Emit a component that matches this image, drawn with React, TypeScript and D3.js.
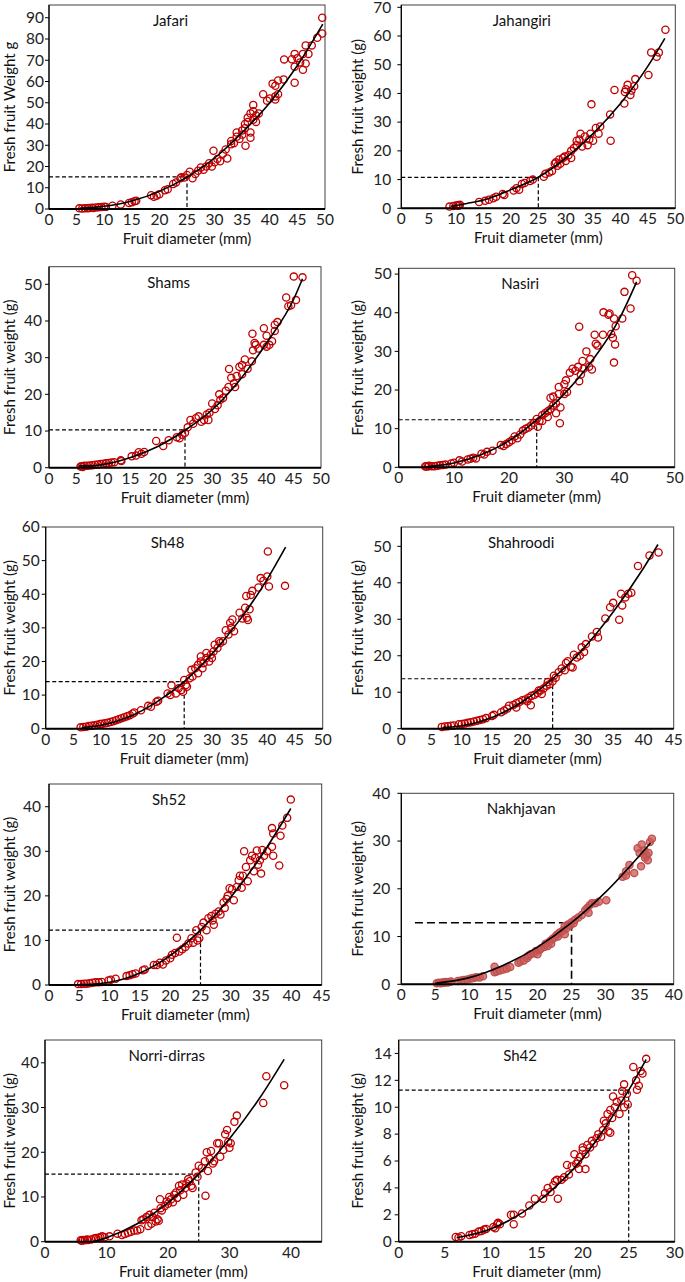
import React from "react";
import * as d3 from "d3";

type Pt = [number, number];

// ---------- DATA ----------
const cultivars = ["Jafari", "Jahangiri", "Shams", "Nasiri", "Sh48", "Shahroodi", "Sh52", "Nakhjavan", "Norri-dirras", "Sh42"];
const yTitles = ["Fresh fruit Weight  g", "Fresh fruit weight (g)", "Fresh fruit weight (g)", "Fresh fruit weight (g)", "Fresh fruit weight (g)", "Fresh fruit weight (g)", "Fresh fruit weight (g)", "Fresh fruit weight (g)", "Fresh fruit weight (g)", "Fresh fruit weight (g)"];
const xTitle = "Fruit diameter (mm)";

const xMax = [50, 50, 50, 50, 50, 45, 45, 40, 45, 30];
const xStep = [5, 5, 5, 10, 5, 5, 5, 5, 10, 5];
const xTickMax = [50, 50, 50, 50, 50, 45, 45, 40, 40, 30];
const yMax = [96, 70.8, 54.8, 51.5, 60, 55.3, 45.1, 40, 45.1, 15];
const yStep = [10, 10, 10, 10, 10, 10, 10, 10, 10, 2];
const yTickMax = [90, 70, 50, 50, 60, 50, 40, 40, 40, 14];
const refDiameter = 25;
const refWeight = [15.1, 10.8, 10.3, 12.3, 14.0, 13.7, 12.3, 12.9, 15.1, 11.27];
const refStart = [0, 0, 0, 0, 0, 0, 0, 2, 0, 0];

const jafariPts: Pt[] = [[5.5,0.3],[6,0.2],[6.5,0.3],[7,0.4],[7.3,0.5],[7.8,0.6],[8,0.5],[8.5,0.7],[9,0.8],[9.5,0.9],[10,1.1],[10.3,1.0],[11.5,1.5],[13,2.1],[14.5,2.8],[15,3.2],[15.5,3.6],[15.8,3.9],[18.5,6.5],[19,5.8],[19.5,6.2],[20,7],[21,8.8],[21.5,9.3],[22.5,11.8],[23,12.5],[23.8,14.5],[24,15],[24.5,14.8],[25,16],[25.5,17.5],[26,14.5],[26.5,16.5],[27,18],[27.5,19.5],[28,18.5],[28.5,20],[29,21.5],[29.5,20],[30,22],[29.8,27.4],[30.5,23.5],[31,22.5],[31.5,26],[32,28],[32.3,23.8],[33,30.5],[33,32],[33.5,31],[34,36],[34,34],[34.5,33],[35,35],[35,37],[35.5,38],[35.5,40],[36,41],[36,43],[35.6,29.8],[36.5,45],[36.5,36],[36.5,33.5],[37,46],[37,49],[37,42],[37.5,44],[37.5,41],[38,45],[38.8,54],[39.5,51],[40,52],[40.5,59],[41,58],[41,53],[41,51.5],[41.5,60.5],[41.5,54],[42.5,61],[42.6,70.4],[44,70.5],[44.5,73],[44.5,67],[44.5,59.4],[45,71],[45.5,69],[46,73],[46,65.5],[46.5,77],[46.5,68.5],[47,73],[47.6,77],[48.6,80.6],[49.5,90],[49.5,82.6]];
const jahangiriPts: Pt[] = [[8.8,0.6],[9.5,0.8],[10,1],[10.3,1.1],[10.5,0.9],[10.7,1.2],[14.2,2.2],[15.3,2.6],[16,3],[16.8,3.5],[17.3,4],[18.5,5],[18.8,4.6],[20.5,6.2],[21,7],[21.5,6.5],[22,8.5],[22.5,8.8],[23.5,9.5],[24,10],[26,11],[26.3,12],[27,12.5],[27.5,13],[28,15.5],[28.2,16],[28.5,14.8],[28.8,17],[29,15.5],[29.5,17.5],[29.8,18],[30,16.5],[30.5,18.5],[31,17.5],[31,20],[31.5,21],[32,22],[32,23.5],[32.5,24],[32.7,26],[33,21.5],[33.5,25],[34,22],[34.3,24],[34.5,26],[34.7,36.2],[35,23.5],[35.5,28],[36,26],[36.3,28.5],[38.1,32.7],[38.2,23.5],[38.9,41.2],[40.7,36.5],[40.8,40.5],[41,41.5],[41.3,43],[41.8,39.5],[42,41],[42.5,42.5],[42.7,45],[45.1,46.4],[45.6,54.3],[46.6,52.8],[47,54.3],[48.2,62.2]];
const shamsPts: Pt[] = [[5.8,0.3],[6,0.4],[6.2,0.2],[6.5,0.5],[7,0.5],[7.5,0.6],[8,0.7],[8.5,0.8],[9,0.9],[9.5,1],[10,1.1],[10.5,1.2],[11,1.3],[11.5,1.4],[12,1.5],[13.2,2.0],[13.3,1.8],[15.2,3.1],[16,3.3],[16.5,4.2],[17,3.8],[17.5,4.3],[19.7,7.3],[21,5.9],[22,7.5],[23.5,8.3],[24,8],[24.5,9],[25,9.5],[25.5,11],[26,13],[26.5,12],[27,13.5],[27.5,14],[28,12.5],[28.5,13],[29,14.5],[29.3,13],[29.5,15],[30,17.5],[30.5,16],[31,17],[31.3,20],[31.5,18.5],[32,19],[32.5,21],[33,22],[33.1,26.9],[33.5,24.5],[34,23],[34.2,22],[34.5,25],[35,27.5],[35.5,28],[35.5,25.5],[36,29.5],[36.5,27],[37.3,29],[37.5,32],[37.4,36.5],[37.8,34],[38,33.5],[38.5,32.5],[39.5,38],[39.5,33.5],[40,36],[40,33],[40.5,33.5],[41,34.5],[41.5,39],[41.5,37.3],[42,39.7],[43.6,46.4],[44,44],[44.5,44.3],[45,52.1],[45.4,45.7],[46.6,51.9]];
const nasiriPts: Pt[] = [[4.8,0.2],[5,0.3],[5.3,0.2],[5.5,0.4],[6,0.3],[6.5,0.3],[7,0.4],[7.5,0.5],[8,0.6],[8.5,0.7],[9.5,1],[10,1.2],[11,1.8],[11.5,1.5],[12.5,2],[13,2.2],[13.5,2.5],[14,2.3],[15,3.5],[15.5,3.3],[16,4],[17,4.3],[18.5,5.8],[19,5.5],[19.5,6],[20,6.5],[20.5,7],[21,8],[21.5,7.5],[22,8.5],[22.5,9.5],[23,10],[23.5,10.3],[24,10.8],[24.5,11.5],[25,12.5],[25.2,10.5],[25.5,12],[26,13.5],[26,12],[26.5,14],[27,14.5],[27,13],[27.5,15],[27.5,18],[28,16],[28,18.3],[28.5,14],[28.5,16.5],[29,20.8],[29,19],[29.3,15.5],[29.2,11.4],[30,19],[30,21.5],[30.3,22.5],[30.5,19.5],[31,24.5],[31.5,25.5],[32,25],[32.5,26],[32.7,22.3],[32.7,36.4],[33,24],[33.3,27.5],[33.5,25.5],[34,30],[34.5,26],[34.7,28],[35,25.3],[35.5,34.3],[35.7,32],[36,31.5],[37,34.3],[37.1,40.1],[38,39.5],[38.2,39.8],[38.5,34.5],[38.8,33.5],[39,38.5],[39,27.1],[39.2,31.8],[39.3,36.5],[40.5,38.5],[40.9,45.4],[42,41.1],[42.3,49.7],[43.1,48.3]];
const sh48Pts: Pt[] = [[6.3,0.4],[6.8,0.5],[7.3,0.6],[7.8,0.8],[8.3,0.9],[8.8,1],[9.3,1.2],[9.8,1.4],[10.2,1.5],[10.7,1.6],[11.2,1.8],[11.7,2],[12.2,2.2],[12.7,2.5],[13.2,2.8],[13.7,3.1],[14.2,3.4],[14.7,3.7],[15.2,4],[15.7,4.5],[16,4.8],[17.2,5.5],[18.5,6.8],[19,6.5],[20,8],[20.3,8.3],[22,10.5],[22.5,10],[22.7,12.9],[23.5,10.5],[24,12],[24.5,11.5],[24.8,11],[25,14.5],[25.3,13],[25.5,12.5],[26,15],[26.3,17.5],[26.5,15.5],[27,18],[27.5,16.5],[27.5,19],[28,20],[28,21.5],[28.3,18],[28.5,19.5],[29,21],[29,22.5],[29.5,20],[29.8,22],[30,21],[30.3,23],[30.5,25],[31,24],[31.3,26],[31.5,25.5],[32,26],[32.5,29.3],[33,28],[33.3,31.5],[33.5,30],[33.7,32.5],[34,29],[35,34.5],[35.5,32.8],[36,36],[36.2,39.5],[36.3,33],[36.5,32.3],[36.8,35.5],[37,39.8],[37.3,41],[38.4,42],[38.8,44.8],[39.3,44],[40,45.3],[40.1,52.7],[40.3,42.3],[43.2,42.5]];
const shahroodiPts: Pt[] = [[6.7,0.5],[7.2,0.6],[7.7,0.7],[8.2,0.8],[8.7,0.9],[9.5,1.2],[10,1.3],[10.5,1.4],[11,1.6],[11.5,1.8],[12,2],[12.5,2.2],[13,2.4],[13.5,2.6],[14,2.9],[15,3.5],[15.3,3.8],[16.5,4.5],[17,5],[17.5,5.5],[17.8,6.3],[18.5,6.5],[19,7],[19,5.8],[19.5,7.3],[20,7.8],[20.5,8],[20.8,7.5],[21,8.5],[21.4,6.4],[21.5,9],[22,9.3],[22.5,9.8],[22.7,10.5],[23,10.5],[23.2,9.5],[23.5,11],[24,11.8],[24.2,12.8],[24.5,12.2],[25,13],[25.2,14.5],[25.5,14],[26,15.5],[26.5,16.5],[27,16],[27.2,18],[27.5,18.5],[28,17],[28.3,16.8],[28.5,20.3],[29,19.5],[29.5,20],[29.8,22.3],[30.2,21],[30.5,23.2],[31.5,25.3],[32.3,26.5],[32.5,25],[33.7,30.2],[34.5,33.3],[35,34.5],[36,29.9],[36.3,37],[36.5,33.8],[37,36],[37.5,37],[38,37.3],[39.1,44.6],[41,47.5],[42.5,48.3]];
const sh52Pts: Pt[] = [[4.8,0.2],[5.3,0.2],[5.8,0.3],[6.2,0.3],[6.7,0.4],[7.2,0.5],[7.7,0.6],[8.2,0.6],[8.7,0.7],[9.8,1],[10.2,1.2],[11,1.4],[12.8,2],[13.3,2.2],[13.8,2.4],[14.3,2.6],[15.5,3.3],[15.8,3.5],[17.3,4.5],[17.8,4.5],[18.3,5],[18.8,4.6],[19.3,5.5],[20,6],[20.3,6.8],[20.8,7.2],[21.1,10.6],[21.5,7.5],[22,8],[22.5,8.5],[23,9.3],[23.5,10.5],[23.8,9.5],[24.3,12.3],[24.5,10],[24.8,10.5],[25.2,13],[25.5,14],[26,12.3],[26.3,15],[26.8,15.5],[27,14.5],[27.2,13.5],[27.5,16],[28,16.5],[28.3,15.8],[28.8,18.5],[29,17.3],[29.3,19.3],[29.5,20],[29.8,21.7],[30.2,21.5],[30.5,19],[31,22],[31.3,23.5],[31.5,24.5],[31.8,21.8],[32,24.5],[32.2,30],[32.5,26.5],[32.8,23.3],[33.2,28],[33.5,29],[33.8,25.5],[34,28.5],[34.3,30.2],[34.5,27],[34.8,28],[35,25],[35.2,30.3],[35.5,29],[36,30],[36.8,35.2],[36.8,31],[37,34],[37,29],[38.2,33.5],[38,26.8],[38.5,35.8],[39.3,37.5],[39.9,41.6]];
const nakhjavanPts: Pt[] = [[5.2,0.2],[5.5,0.3],[5.8,0.2],[6,0.4],[6.3,0.3],[6.5,0.5],[6.8,0.4],[7,0.5],[7.3,0.6],[8.3,0.7],[8.8,0.8],[9.2,0.9],[9.7,1],[10.2,1.2],[10.6,1.3],[11,1.5],[11.5,1.4],[12,1.7],[13.7,3.7],[13.7,2.5],[14,2.7],[14.5,2.9],[15,3.1],[15.5,3.3],[16,3.6],[17.2,4.5],[17.5,4.8],[18,5],[18.5,5.5],[18.7,6],[19,6.3],[19.5,6.5],[19.8,7],[20,6.3],[20.3,7.2],[20.5,7.5],[21,7.8],[21.2,8.5],[21.5,8],[21.8,9],[22,8.5],[22.2,9.5],[22.5,9.8],[22.8,10.3],[23,10],[23.2,10.8],[23.5,11],[23.8,11.3],[24,10.5],[24,12.2],[24.3,11.8],[24.5,12.5],[24.8,12.3],[25,13],[25.3,12.8],[25.5,13.5],[26,14],[26.5,14.5],[27,15.5],[27.3,16],[27.5,15],[27.7,16.6],[28,17],[28.5,17],[29,17.3],[30.1,17.6],[32.5,22.5],[33,23.7],[33,22.8],[33.5,25],[34.2,23.3],[34.7,28.5],[35,27.5],[35.3,29.3],[35.2,24.7],[35.7,28],[35.8,26.5],[36,27],[36.2,26],[36.3,27.5],[36.5,29.8],[36.8,30.5]];
const norriPts: Pt[] = [[5.8,0.3],[6,0.2],[6.2,0.4],[6.5,0.3],[6.8,0.5],[7,0.4],[7.5,0.5],[8,0.7],[8.3,0.8],[8.7,0.9],[9,1],[9.3,1.2],[9.7,1],[10.5,1.2],[11.8,1.8],[12.5,1.5],[13,1.7],[13.5,2],[14,2.2],[14.5,2.5],[15,2.5],[15.5,2.8],[15.7,4.8],[16,5],[16.5,5.5],[16.8,3.5],[17,6],[17.3,4],[17.5,5.5],[17.8,6.5],[18,4.5],[18.3,5],[18.5,4.7],[18.7,9.5],[18.8,7.5],[19,7],[19.5,8],[19.8,9],[20,8.5],[20.2,10],[20.5,9.5],[20.8,8.8],[21,10.5],[21.3,11],[21.5,9.8],[21.8,12.5],[22,11.5],[22.3,12.8],[22.5,10.5],[22.8,12],[23,13],[23.3,14],[23.5,13.5],[23.8,12.5],[24,12],[24.5,15.5],[24.8,14.5],[25,17],[25.5,16.5],[26,18],[26.1,10.3],[26.3,20],[26.5,15.8],[26.8,18.5],[27,20.3],[27.3,17.5],[27.5,18],[28,22],[28.3,22],[28.5,19],[29,20.5],[29.3,24],[29.6,25],[29.8,22.3],[30,21],[30.2,22],[30.8,26.8],[31.2,28.2],[35.5,31],[36,37],[38.9,35]];
const sh42Pts: Pt[] = [[6.2,0.35],[6.5,0.3],[6.8,0.4],[7.7,0.5],[8,0.55],[8.3,0.6],[8.7,0.75],[9,0.8],[9.3,0.9],[9.5,0.95],[10.3,1.1],[10.5,1],[10.7,1.3],[10.8,1.4],[11,1.3],[12.2,2],[12.5,2],[12.5,1.3],[13.4,2.1],[14.2,2.7],[14.8,3.2],[15.7,3.2],[15.9,3.6],[16.2,4],[16.5,3.7],[16.8,4.2],[17,4.5],[17.2,4.6],[17.3,3.2],[17.7,4.6],[18,4.8],[18.3,5.7],[18.5,5],[18.8,5.6],[19.1,6.5],[19.3,5.8],[19.5,6],[19.7,6.3],[19.6,5.4],[20,6.8],[20,7],[20.3,6.5],[20.3,5.4],[20.5,7.2],[20.8,7],[21,7.5],[21.2,7.3],[21.5,7.7],[21.7,8],[22,7.8],[22.2,8.3],[22.3,9],[22.5,8.8],[22.7,9.5],[22.8,8.2],[23,8.1],[23,9.8],[23.2,9.2],[23.3,10.8],[23.5,10],[23.7,10.4],[24,9.5],[24.2,10.5],[24.3,11.2],[24.5,10],[24.5,11.7],[24.8,11],[24.9,10.2],[25.5,13],[25.8,12],[25.9,11.3],[26.1,11.6],[26.3,12.7],[26.5,12.5],[26.9,13.6]];

// fitted trend lines (knots)
const jafariFit: Pt[] = [[5.5,0.3],[10,1.3],[15,3.8],[20,8.3],[25,15],[30,24],[35,36],[40,50],[45,67.5],[49.6,87]];
const jahangiriFit: Pt[] = [[9,0.7],[12,1.7],[15,2.9],[20,6.5],[25,10.8],[30,17.5],[35,26],[40,36.5],[45,49.5],[48.1,59.2]];
const shamsFit: Pt[] = [[5.5,0.5],[8,0.5],[10,0.9],[15,2.8],[20,5.8],[25,10.2],[30,15.8],[35,23.8],[40,34],[45,46],[46.6,51.5]];
const nasiriFit: Pt[] = [[5,0.15],[10,1.1],[15,3.3],[20,6.9],[25,12.3],[30,19],[35,27.5],[40,38.5],[43.1,48]];
const sh48Fit: Pt[] = [[6.5,0.3],[10,1.0],[15,3.5],[20,7.9],[25,14],[30,22.2],[35,32.3],[40,44.5],[43.3,54]];
const shahroodiFit: Pt[] = [[6.8,0.3],[10,0.8],[15,3.1],[20,7.4],[25,13.7],[30,21.8],[35,32],[40,44],[42.4,50.5]];
const sh52Fit: Pt[] = [[5,0.1],[7,0.15],[10,0.6],[15,2.7],[20,6.6],[25,12.3],[30,19.7],[35,28.9],[39.9,39.6]];
const nakhjavanFit: Pt[] = [[5,0.2],[10,1.4],[15,4],[20,7.8],[25,12.9],[30,19.3],[36.6,29.6]];
const norriFit: Pt[] = [[7.75,0],[10,0.9],[15,4],[20,8.7],[25,15.1],[30,23],[35,32.3],[38.9,40.8]];
const sh42Fit: Pt[] = [[6.3,0.3],[10,0.95],[15,2.9],[20,6.2],[25,11.27],[26.9,13.55]];

const allPts = [jafariPts, jahangiriPts, shamsPts, nasiriPts, sh48Pts, shahroodiPts, sh52Pts, nakhjavanPts, norriPts, sh42Pts];
const allFits = [jafariFit, jahangiriFit, shamsFit, nasiriFit, sh48Fit, shahroodiFit, sh52Fit, nakhjavanFit, norriFit, sh42Fit];

// ---------- LAYOUT (pixel boxes of plot areas) ----------
const boxes = [
  { l: 49, r: 325, t: 5, b: 209, pad: 5 },
  { l: 401.3, r: 675.3, t: 5, b: 208.3, pad: 10 },
  { l: 49, r: 321, t: 266.7, b: 467.7, pad: 7 },
  { l: 398.7, r: 674.7, t: 268.3, b: 467.3, pad: 7 },
  { l: 45.7, r: 322.7, t: 527, b: 728.7, pad: 6 },
  { l: 401.3, r: 673.7, t: 527, b: 728.7, pad: 10 },
  { l: 49, r: 321.7, t: 784, b: 985, pad: 8 },
  { l: 401.3, r: 673.7, t: 793.3, b: 984.3, pad: 11 },
  { l: 45, r: 321.7, t: 1040, b: 1241.7, pad: 6 },
  { l: 398.7, r: 674.7, t: 1040, b: 1241.7, pad: 7 },
];
const yTitleX = [9, 357];
const FONT = "Lato, 'Open Sans', 'DejaVu Sans', sans-serif";
const RED = "#c00000";

function Panel({ i }: { i: number }) {
  const bx = boxes[i];
  const x = d3.scaleLinear().domain([0, xMax[i]]).range([bx.l, bx.r]);
  const y = d3.scaleLinear().domain([0, yMax[i]]).range([bx.b, bx.t]);
  const xt = d3.range(0, xTickMax[i] + 0.001, xStep[i]);
  const yt = d3.range(0, yTickMax[i] + 0.001, yStep[i]);
  const line = d3.line<Pt>().x((d) => x(d[0])).y((d) => y(d[1])).curve(d3.curveMonotoneX);
  const isNak = i === 7;
  const yRef = y(refWeight[i]);
  const xRef = x(refDiameter);
  const dash = isNak ? "8,4" : "4,2.5";
  const midY = (bx.t + bx.b) / 2;
  const col = i % 2;
  return (
    <g>
      <rect x={bx.l} y={bx.t} width={bx.r - bx.l} height={bx.b - bx.t} fill="#fff" stroke="#404040" strokeWidth={1} />
      {yt.map((v) => (
        <g key={"y" + v}>
          <line x1={bx.l - 4} x2={bx.l} y1={y(v)} y2={y(v)} stroke="#000" strokeWidth={1} />
          <text x={bx.l - bx.pad} y={y(v) + 5.3} textAnchor="end" fontSize={15.5} fill="#222">{v}</text>
        </g>
      ))}
      {xt.map((v) => (
        <text key={"x" + v} x={x(v)} y={bx.b + 16} textAnchor="middle" fontSize={15.5} fill="#222">{v}</text>
      ))}
      <line x1={bx.l} x2={bx.l} y1={bx.t} y2={bx.b} stroke="#000" strokeWidth={1.2} />
      {/* reference lines */}
      <line x1={x(refStart[i])} x2={xRef} y1={yRef} y2={yRef} stroke="#000" strokeWidth={isNak ? 1.6 : 1.2} strokeDasharray={dash} />
      <line x1={xRef} x2={xRef} y1={yRef} y2={bx.b} stroke="#000" strokeWidth={isNak ? 1.6 : 1.2} strokeDasharray={dash} />
      {allPts[i].map((d, k) => (
        <circle key={k} cx={x(d[0])} cy={y(d[1])} r={3.6}
          fill={isNak ? "rgba(200,90,88,0.75)" : "none"}
          stroke={isNak ? "#c0504d" : RED} strokeWidth={1.3} />
      ))}
      <path d={line(allFits[i]) || ""} fill="none" stroke="#000" strokeWidth={1.6} />
      <line x1={bx.l} x2={bx.r} y1={bx.b} y2={bx.b} stroke="#000" strokeWidth={2} />
      <text x={bx.l + 0.44 * (bx.r - bx.l)} y={bx.t + 21} textAnchor="middle" fontSize={15} fill="#111">{cultivars[i]}</text>
      <text x={(bx.l + bx.r) / 2} y={bx.b + 35} textAnchor="middle" fontSize={15} fill="#111">{xTitle}</text>
      <text transform={`translate(${yTitleX[col]},${midY}) rotate(-90)`} textAnchor="middle" dominantBaseline="central" fontSize={15} fill="#111">{yTitles[i]}</text>
    </g>
  );
}

export default function App() {
  return (
    <svg width={685} height={1282} style={{ position: "absolute", left: 0, top: 0, background: "#fff" }} fontFamily={FONT}>
      <rect x={0} y={0} width={685} height={1282} fill="#fff" />
      {cultivars.map((_, i) => <Panel key={i} i={i} />)}
    </svg>
  );
}
